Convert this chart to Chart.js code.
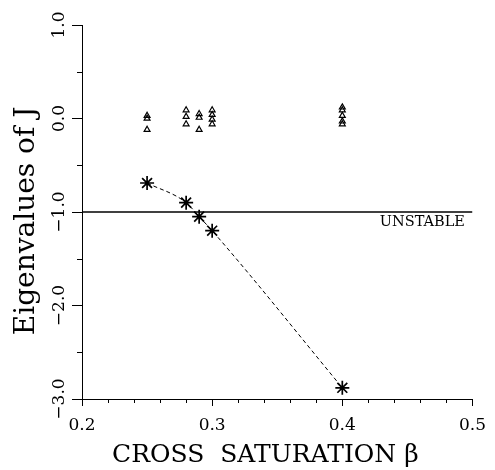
<!DOCTYPE html>
<html>
<head>
<meta charset="utf-8">
<script src="https://cdn.jsdelivr.net/npm/chart.js@4.4.1/dist/chart.umd.min.js"></script>
<style>
  html, body { margin: 0; padding: 0; background: #fff; }
  #wrap { width: 495px; height: 470px; position: relative; }
</style>
</head>
<body>
<div id="wrap"><canvas id="chart"></canvas></div>
<script>
// Cross saturation beta at which the Jacobian J was evaluated
const betaValues = [0.25, 0.28, 0.29, 0.30, 0.40];
// Leading (most negative) eigenvalue of J at each beta
const leadingEigenvalues = [-0.69, -0.90, -1.05, -1.20, -2.88];
// Remaining eigenvalues of J, clustered near zero, one list per beta
const otherEigenvalues = [
  [0.03, 0.00, -0.12],
  [0.09, 0.02, -0.06],
  [0.05, 0.01, -0.12],
  [0.09, 0.04, -0.01, -0.06],
  [0.12, 0.09, 0.03, -0.03, -0.06]
];
// Stability boundary
const stabilityLimit = -1.0;
const stabilityLabel = 'UNSTABLE';

const xRange = [0.2, 0.5];
const yRange = [-3, 1];
const xTickLabels = ['0.2', '0.3', '0.4', '0.5'];
const yTickLabels = ['\u22123.0', '\u22122.0', '\u22121.0', '0.0', '1.0'];

const SERIF = '"DejaVu Serif", "Liberation Serif", serif';

const clusterPoints = [];
betaValues.forEach((b, i) => {
  otherEigenvalues[i].forEach(v => clusterPoints.push({ x: b, y: v }));
});
const leadingPoints = betaValues.map((b, i) => ({ x: b, y: leadingEigenvalues[i] }));
const limitPoints = xRange.map(b => ({ x: b, y: stabilityLimit }));

// Short unlabelled ticks between the labelled ones
const minorTicks = {
  id: 'minorTicks',
  afterDraw(chart, args, opts) {
    const { ctx } = chart;
    const xs = chart.scales.x, ys = chart.scales.y;
    ctx.save();
    ctx.strokeStyle = '#000';
    ctx.lineWidth = 1;
    ctx.beginPath();
    for (let i = 0; i < xs.ticks.length - 1; i++) {
      const a = xs.ticks[i].value, b = xs.ticks[i + 1].value;
      for (let k = 1; k < opts.xDiv; k++) {
        const px = Math.round(xs.getPixelForValue(a + (b - a) * k / opts.xDiv)) + 0.5;
        ctx.moveTo(px, xs.top);
        ctx.lineTo(px, xs.top + opts.xLen);
      }
    }
    for (let i = 0; i < ys.ticks.length - 1; i++) {
      const a = ys.ticks[i].value, b = ys.ticks[i + 1].value;
      for (let k = 1; k < opts.yDiv; k++) {
        const py = Math.round(ys.getPixelForValue(a + (b - a) * k / opts.yDiv)) + 0.5;
        ctx.moveTo(ys.right, py);
        ctx.lineTo(ys.right - opts.yLen, py);
      }
    }
    ctx.stroke();
    ctx.restore();
  }
};

// Region label beneath the stability boundary
const regionLabel = {
  id: 'regionLabel',
  afterDatasetsDraw(chart, args, opts) {
    const { ctx } = chart;
    const px = chart.scales.x.getPixelForValue(opts.x);
    const py = chart.scales.y.getPixelForValue(opts.y);
    ctx.save();
    ctx.fillStyle = '#000';
    ctx.font = opts.font;
    ctx.textAlign = 'center';
    ctx.textBaseline = 'middle';
    ctx.fillText(opts.text, px, py);
    ctx.restore();
  }
};

new Chart(document.getElementById('chart'), {
  type: 'scatter',
  data: {
    datasets: [
      {
        label: 'limit',
        data: limitPoints,
        showLine: true,
        borderColor: '#000',
        borderWidth: 1.5,
        pointRadius: 0
      },
      {
        label: 'leading',
        data: leadingPoints,
        showLine: true,
        cubicInterpolationMode: 'monotone',
        borderColor: '#000',
        borderWidth: 1,
        borderDash: [4, 3],
        pointStyle: 'star',
        pointRadius: 7,
        pointBorderWidth: 1.7,
        pointBorderColor: '#000',
        pointBackgroundColor: '#000'
      },
      {
        label: 'others',
        data: clusterPoints,
        pointStyle: 'triangle',
        pointRadius: 3.4,
        pointBorderWidth: 1.2,
        pointBorderColor: '#000',
        pointBackgroundColor: 'rgba(0,0,0,0)'
      }
    ]
  },
  options: {
    responsive: true,
    maintainAspectRatio: false,
    animation: false,
    events: [],
    layout: { padding: { top: 25, right: 22, left: 0, bottom: 0 } },
    plugins: {
      legend: { display: false },
      tooltip: { enabled: false },
      minorTicks: { xDiv: 5, xLen: 4, yDiv: 2, yLen: 5 },
      regionLabel: { text: stabilityLabel, x: 0.4615, y: -1.11, font: '14.5px ' + SERIF }
    },
    scales: {
      x: {
        type: 'linear',
        min: xRange[0],
        max: xRange[1],
        afterFit(scale) { scale.height = 71; },
        border: { display: true, color: '#000', width: 1 },
        grid: { drawOnChartArea: false, drawTicks: true, tickLength: 7, color: '#000', tickColor: '#000' },
        ticks: {
          stepSize: 0.1,
          color: '#000',
          padding: 9,
          maxRotation: 0,
          font: { family: SERIF, size: 17 },
          callback: (v, i) => xTickLabels[i]
        },
        title: {
          display: true,
          // trailing spaces nudge the centred title slightly left
          text: 'CROSS  SATURATION \u03b2   ',
          color: '#000',
          font: { family: SERIF, size: 25, lineHeight: 1 },
          padding: { top: 0, bottom: 2 }
        }
      },
      y: {
        type: 'linear',
        min: yRange[0],
        max: yRange[1],
        afterFit(scale) { scale.width = 82; },
        border: { display: true, color: '#000', width: 1 },
        grid: { drawOnChartArea: false, drawTicks: true, tickLength: 10, color: '#000', tickColor: '#000' },
        ticks: {
          stepSize: 1,
          color: '#000',
          padding: -8,
          minRotation: 90,
          maxRotation: 90,
          crossAlign: 'center',
          font: { family: SERIF, size: 17 },
          callback: (v, i) => yTickLabels[i]
        },
        title: {
          display: true,
          // trailing spaces nudge the rotated title slightly down
          text: 'Eigenvalues of J  ',
          color: '#000',
          font: { family: SERIF, size: 28, lineHeight: 1 },
          padding: { top: 13, bottom: 0 }
        }
      }
    }
  },
  plugins: [minorTicks, regionLabel]
});
</script>
</body>
</html>
